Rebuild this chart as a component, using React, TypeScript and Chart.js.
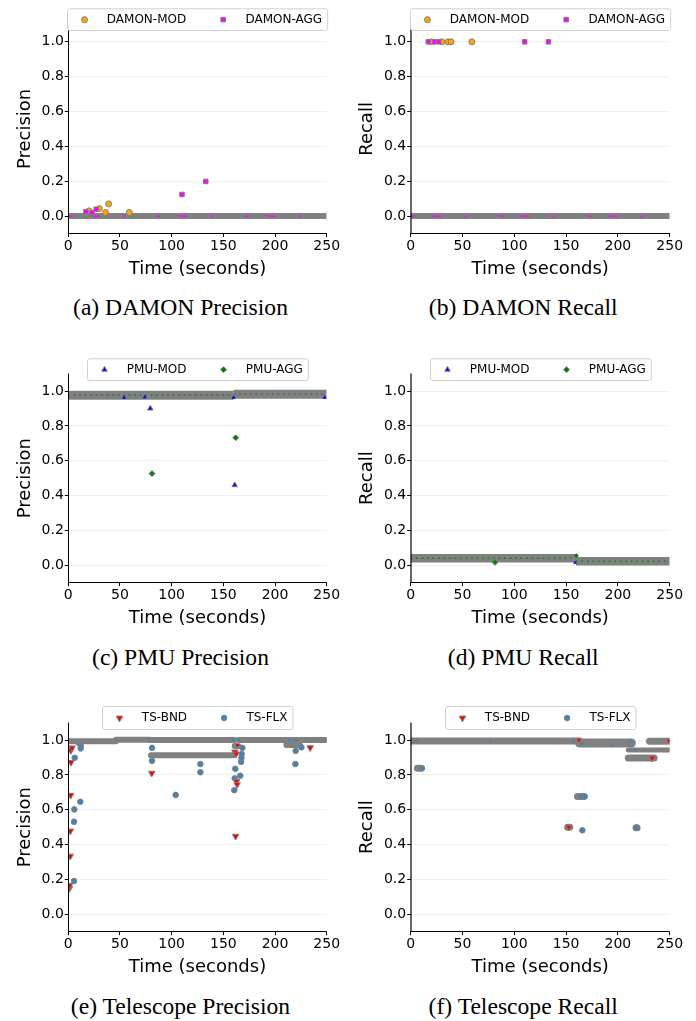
import React, { useEffect, useRef } from 'react';
import { Chart, registerables } from 'chart.js';

Chart.register(...registerables);

const SANS = '"DejaVu Sans", "Liberation Sans", sans-serif';
const SERIF = '"Liberation Serif", "Times New Roman", serif';
const EDGE = '#808080';

// ---------------- shared axes ----------------
const X_TICKS = [0, 50, 100, 150, 200, 250];
const Y_TICKS = [0.0, 0.2, 0.4, 0.6, 0.8, 1.0];
const X_LIMITS = [0, 250];
const Y_LIMITS = [-0.1, 1.1];
const X_TITLE = 'Time (seconds)';

// ---------------- (a), (b) DAMON ----------------
const damonModTime = [20, 30, 36, 39, 59];
const damonModPrecision = [0.03, 0.043, 0.021, 0.07, 0.021];
const damonModRecall = [1.0, 1.0, 1.0, 1.0, 1.0];
const damonAggTime = [17, 23, 27, 110, 133];
const damonAggPrecision = [0.025, 0.021, 0.039, 0.124, 0.199];
const damonAggRecall = [1.0, 1.0, 1.0, 1.0, 1.0];
// dense runs of samples: [start time, end time, value]
const damonPrecisionRuns = [[0, 250, 0.0]];
const damonRecallRuns = [[0, 250, 0.0]];

// ---------------- (c), (d) PMU ----------------
const pmuModPrecisionTime = [79.3, 161];
const pmuModPrecision = [0.9, 0.46];
const pmuModPrecisionBandTime = [54, 74, 160, 248];
const pmuModPrecisionBand = [0.962, 0.965, 0.962, 0.962];
const pmuAggPrecisionTime = [81, 162];
const pmuAggPrecision = [0.526, 0.732];
const pmuPrecisionRuns = [[0, 160, 0.976], [160, 250, 0.982]];

const pmuModRecallTime: number[] = [];
const pmuModRecall: number[] = [];
const pmuModRecallBandTime = [158.6];
const pmuModRecallBand = [0.015];
const pmuAggRecallTime = [81.4];
const pmuAggRecall = [0.017];
const pmuAggRecallBandTime = [160];
const pmuAggRecallBand = [0.055];
const pmuRecallRuns = [[0, 159.5, 0.04], [159.5, 250, 0.023]];

// ---------------- (e), (f) Telescope ----------------
const tsBndPrecisionTime = [1.0, 1.3, 1.9, 2.0, 2.3, 2.6, 2.4, 3.6, 80.7, 161.2, 161.9, 162.3, 162.8, 163.3, 234.0];
const tsBndPrecision = [0.148, 0.166, 0.334, 0.478, 0.683, 0.872, 0.94, 0.955, 0.81, 0.932, 0.448, 0.92, 0.762, 0.745, 0.956];
const tsBndPrecisionBandTime = [163.8];
const tsBndPrecisionBand = [0.97];
const tsFlxPrecisionTime = [5.5, 5.5, 5.8, 6.2, 11.6, 12.0, 12.0, 81.0, 81.0, 103.9, 127.8, 127.8, 160.6, 161.0, 161.6, 166.4, 167.2, 167.5, 167.7, 168.4, 219.7, 220.0, 225.6];
const tsFlxPrecision = [0.191, 0.531, 0.602, 0.898, 0.646, 0.952, 0.967, 0.955, 0.881, 0.685, 0.862, 0.815, 0.712, 0.78, 0.835, 0.795, 0.875, 0.898, 0.92, 0.955, 0.862, 0.938, 0.958];
const tsFlxPrecisionBandTime = [8.5, 79, 160, 165, 213.8, 219.7, 250];
const tsFlxPrecisionBand = [0.977, 1.0, 1.0, 1.0, 1.0, 1.0, 1.0];
const tsPrecisionRuns = [[0, 46, 0.993], [46, 79, 1.002], [79, 161, 1.0], [80, 160, 0.912], [161, 164.5, 0.965], [165, 250, 1.0], [211, 224, 0.972]];

const tsBndRecallTime = [152.5, 233];
const tsBndRecall = [0.5, 0.897];
const tsBndRecallBandTime = [162.3, 249];
const tsBndRecallBand = [1.0, 0.995];
const tsFlxRecallTime = [10.9, 165.7, 164.5, 168, 218];
const tsFlxRecall = [0.838, 0.482, 0.676, 0.676, 0.497];
const tsFlxRecallBandTime = [5.4, 77, 157, 165.5, 195, 211.5, 216];
const tsFlxRecallBand = [1.0, 0.995, 0.995, 0.98, 0.97, 0.995, 0.945];
const tsRecallRuns = [[0, 163, 0.994], [6.5, 10, 0.838], [151.5, 153.5, 0.5], [161, 167, 0.676], [217.5, 218.5, 0.497], [230.5, 250, 0.993], [210, 235, 0.897]];
const tsRecallWideRuns = [[163, 213, 0.983]];
const tsRecallThinRuns = [[210, 250, 0.943]];

// ---------------- layout ----------------
const CANVAS_W = 348;
const CANVAS_H = 290;
const COL_X = [0, 348];
const ROW_Y = [0, 349, 698];
const AREA_LEFT = [68.3, 62.7];
const AREA_RIGHT = [326.7, 321.7];
const AREA_TOP = [24.4, 24.6, 24.6];
const AREA_H = 209.1;
const Y_TITLE_PAD = [14.1, 8.2];
const X_TITLE_PAD = 9.5;
const CAPTION_CX = [180.5, 523.2];
const CAPTION_BASELINE = [315, 664.5, 1014];
const LEGEND_H = [21.7, 21.7, 23];

type Marker = { style: string; radius: number; rotation: number; fill: string };
type Series = {
  label: string; marker: Marker; order: number;
  time: number[]; value: number[];
  bandTime: number[]; bandValue: number[]; speckRadius: number;
};
type RunSet = { runs: number[][]; width: number; cap: CanvasLineCap; color: string; texture?: { color: string; width: number; dash: number[] } };
type Panel = { id: string; col: number; row: number; yTitle: string; caption: string; series: Series[]; runs: RunSet[] };

const M_DAMON_MOD: Marker = { style: 'circle', radius: 3, rotation: 0, fill: '#FFA500' };
const M_DAMON_AGG: Marker = { style: 'rect', radius: 3.2, rotation: 0, fill: '#FF00FF' };
const M_PMU_MOD: Marker = { style: 'triangle', radius: 3.2, rotation: 0, fill: '#0000FF' };
const M_PMU_AGG: Marker = { style: 'rectRot', radius: 3, rotation: 0, fill: '#008000' };
const M_TS_BND: Marker = { style: 'triangle', radius: 3.8, rotation: 180, fill: '#FF0000' };
const M_TS_FLX: Marker = { style: 'circle', radius: 2.8, rotation: 0, fill: '#4682B4' };

const DAMON_TEX = { color: '#FF00FF', width: 1.2, dash: [5, 17, 9, 23, 3, 31] };
const PMU_TEX = { color: 'rgba(0,128,0,0.85)', width: 1.4, dash: [1.5, 4] };

const PANELS: Panel[] = [
  {
    id: 'a', col: 0, row: 0, yTitle: 'Precision', caption: '(a) DAMON Precision',
    series: [
      { label: 'DAMON-MOD', marker: M_DAMON_MOD, order: 2, time: damonModTime, value: damonModPrecision, bandTime: [], bandValue: [], speckRadius: 0 },
      { label: 'DAMON-AGG', marker: M_DAMON_AGG, order: 1, time: damonAggTime, value: damonAggPrecision, bandTime: [], bandValue: [], speckRadius: 0 },
    ],
    runs: [{ runs: damonPrecisionRuns, width: 6, cap: 'butt', color: EDGE, texture: DAMON_TEX }],
  },
  {
    id: 'b', col: 1, row: 0, yTitle: 'Recall', caption: '(b) DAMON Recall',
    series: [
      { label: 'DAMON-MOD', marker: M_DAMON_MOD, order: 2, time: damonModTime, value: damonModRecall, bandTime: [], bandValue: [], speckRadius: 0 },
      { label: 'DAMON-AGG', marker: M_DAMON_AGG, order: 1, time: damonAggTime, value: damonAggRecall, bandTime: [], bandValue: [], speckRadius: 0 },
    ],
    runs: [{ runs: damonRecallRuns, width: 6, cap: 'butt', color: EDGE, texture: DAMON_TEX }],
  },
  {
    id: 'c', col: 0, row: 1, yTitle: 'Precision', caption: '(c) PMU Precision',
    series: [
      { label: 'PMU-MOD', marker: M_PMU_MOD, order: 2, time: pmuModPrecisionTime, value: pmuModPrecision, bandTime: pmuModPrecisionBandTime, bandValue: pmuModPrecisionBand, speckRadius: 2.4 },
      { label: 'PMU-AGG', marker: M_PMU_AGG, order: 1, time: pmuAggPrecisionTime, value: pmuAggPrecision, bandTime: [], bandValue: [], speckRadius: 0 },
    ],
    runs: [{ runs: pmuPrecisionRuns, width: 9, cap: 'butt', color: EDGE, texture: PMU_TEX }],
  },
  {
    id: 'd', col: 1, row: 1, yTitle: 'Recall', caption: '(d) PMU Recall',
    series: [
      { label: 'PMU-MOD', marker: M_PMU_MOD, order: 2, time: pmuModRecallTime, value: pmuModRecall, bandTime: pmuModRecallBandTime, bandValue: pmuModRecallBand, speckRadius: 2.2 },
      { label: 'PMU-AGG', marker: M_PMU_AGG, order: 1, time: pmuAggRecallTime, value: pmuAggRecall, bandTime: pmuAggRecallBandTime, bandValue: pmuAggRecallBand, speckRadius: 2.4 },
    ],
    runs: [{ runs: pmuRecallRuns, width: 8.5, cap: 'butt', color: EDGE, texture: PMU_TEX }],
  },
  {
    id: 'e', col: 0, row: 2, yTitle: 'Precision', caption: '(e) Telescope Precision',
    series: [
      { label: 'TS-BND', marker: M_TS_BND, order: 1, time: tsBndPrecisionTime, value: tsBndPrecision, bandTime: tsBndPrecisionBandTime, bandValue: tsBndPrecisionBand, speckRadius: 2.4 },
      { label: 'TS-FLX', marker: M_TS_FLX, order: 2, time: tsFlxPrecisionTime, value: tsFlxPrecision, bandTime: tsFlxPrecisionBandTime, bandValue: tsFlxPrecisionBand, speckRadius: 1.5 },
    ],
    runs: [{ runs: tsPrecisionRuns, width: 6, cap: 'round', color: EDGE }],
  },
  {
    id: 'f', col: 1, row: 2, yTitle: 'Recall', caption: '(f) Telescope Recall',
    series: [
      { label: 'TS-BND', marker: M_TS_BND, order: 1, time: tsBndRecallTime, value: tsBndRecall, bandTime: tsBndRecallBandTime, bandValue: tsBndRecallBand, speckRadius: 2.4 },
      { label: 'TS-FLX', marker: M_TS_FLX, order: 2, time: tsFlxRecallTime, value: tsFlxRecall, bandTime: tsFlxRecallBandTime, bandValue: tsFlxRecallBand, speckRadius: 1.5 },
    ],
    runs: [
      { runs: tsRecallWideRuns, width: 9, cap: 'round', color: EDGE },
      { runs: tsRecallRuns, width: 7, cap: 'round', color: EDGE },
      { runs: tsRecallThinRuns, width: 5, cap: 'round', color: EDGE },
    ],
  },
];

function alignPixel(v: number, w: number) {
  return Math.round(v - w / 2) + w / 2;
}

function drawMarker(ctx: CanvasRenderingContext2D, m: Marker, x: number, y: number) {
  const r = m.radius;
  ctx.beginPath();
  if (m.style === 'circle') {
    ctx.arc(x, y, r, 0, Math.PI * 2);
  } else if (m.style === 'rect') {
    const s = Math.SQRT1_2 * r;
    ctx.rect(x - s, y - s, 2 * s, 2 * s);
  } else if (m.style === 'rectRot') {
    ctx.moveTo(x - r, y);
    ctx.lineTo(x, y - r);
    ctx.lineTo(x + r, y);
    ctx.lineTo(x, y + r);
    ctx.closePath();
  } else {
    let a = (m.rotation * Math.PI) / 180;
    ctx.moveTo(x + Math.sin(a) * r, y - Math.cos(a) * r);
    a += (2 * Math.PI) / 3;
    ctx.lineTo(x + Math.sin(a) * r, y - Math.cos(a) * r);
    a += (2 * Math.PI) / 3;
    ctx.lineTo(x + Math.sin(a) * r, y - Math.cos(a) * r);
    ctx.closePath();
  }
  ctx.fillStyle = m.fill;
  ctx.fill();
  ctx.strokeStyle = EDGE;
  ctx.lineWidth = 1;
  ctx.stroke();
}

function datasetsFor(p: Panel) {
  const out: any[] = [];
  for (const s of p.series) {
    out.push({
      label: s.label,
      data: s.time.map((t, i) => ({ x: t, y: s.value[i] })),
      showLine: false,
      pointStyle: s.marker.style,
      pointRadius: s.marker.radius,
      pointRotation: s.marker.rotation,
      pointBackgroundColor: s.marker.fill,
      pointBorderColor: EDGE,
      pointBorderWidth: 1,
      backgroundColor: s.marker.fill,
      borderColor: EDGE,
      order: s.order,
      clip: 0,
    });
    if (s.bandTime.length) {
      out.push({
        data: s.bandTime.map((t, i) => ({ x: t, y: s.bandValue[i] })),
        showLine: false,
        pointStyle: s.marker.style,
        pointRadius: s.speckRadius,
        pointRotation: s.marker.rotation,
        pointBackgroundColor: s.marker.fill,
        pointBorderColor: s.marker.fill,
        pointBorderWidth: 0,
        backgroundColor: s.marker.fill,
        borderColor: s.marker.fill,
        order: 3,
        clip: 0,
      });
    }
  }
  for (const rs of p.runs) {
    for (const [t0, t1, v] of rs.runs) {
      out.push({
        data: [{ x: t0, y: v }, { x: t1, y: v }],
        showLine: true,
        pointRadius: 0,
        borderColor: rs.color,
        backgroundColor: rs.color,
        borderWidth: rs.width,
        borderCapStyle: rs.cap,
        fill: false,
        order: 5,
        clip: 0,
      });
      if (rs.texture) {
        out.push({
          data: [{ x: t0, y: v }, { x: t1, y: v }],
          showLine: true,
          pointRadius: 0,
          borderColor: rs.texture.color,
          backgroundColor: rs.texture.color,
          borderWidth: rs.texture.width,
          borderDash: rs.texture.dash,
          borderCapStyle: 'butt',
          fill: false,
          order: 4,
          clip: 0,
        });
      }
    }
  }
  return out;
}

function spinePlugin(col: number) {
  return {
    id: 'spines',
    afterDatasetsDraw(chart: any) {
      const { ctx, chartArea: a } = chart;
      ctx.save();
      const by = alignPixel(a.bottom, 1);
      const lw = col === 0 ? 1 : 2;
      const lx = alignPixel(a.left, lw);
      ctx.strokeStyle = col === 0 ? '#000' : 'rgba(0,0,0,0.6)';
      ctx.lineWidth = lw;
      ctx.beginPath();
      ctx.moveTo(lx, a.top);
      ctx.lineTo(lx, by + 0.5);
      ctx.stroke();
      ctx.strokeStyle = '#000';
      ctx.lineWidth = 1;
      ctx.beginPath();
      ctx.moveTo(lx - lw / 2, by);
      ctx.lineTo(a.right, by);
      ctx.stroke();
      ctx.restore();
    },
  };
}

function legendPlugin(p: Panel) {
  return {
    id: 'mplLegend',
    afterDraw(chart: any) {
      const { ctx, chartArea: a } = chart;
      ctx.save();
      ctx.font = `12px ${SANS}`;
      const w = p.series.map((s) => ctx.measureText(s.label).width);
      const PAD_L = 17, GAP = 22.3, COLSP = 37, PAD_R = 5.5;
      const total = PAD_L + GAP + w[0] + COLSP + GAP + w[1] + PAD_R;
      const cx = (a.left + a.right) / 2;
      const bx = Math.round(cx - total / 2) + 0.5;
      const bb = Math.round(a.top + 6) + 0.5;
      const h = LEGEND_H[p.row];
      const bt = bb - h;
      const rr = 2.5;
      ctx.beginPath();
      ctx.moveTo(bx + rr, bt);
      ctx.lineTo(bx + total - rr, bt);
      ctx.arcTo(bx + total, bt, bx + total, bt + rr, rr);
      ctx.lineTo(bx + total, bb - rr);
      ctx.arcTo(bx + total, bb, bx + total - rr, bb, rr);
      ctx.lineTo(bx + rr, bb);
      ctx.arcTo(bx, bb, bx, bb - rr, rr);
      ctx.lineTo(bx, bt + rr);
      ctx.arcTo(bx, bt, bx + rr, bt, rr);
      ctx.closePath();
      ctx.fillStyle = 'rgba(255,255,255,0.92)';
      ctx.fill();
      ctx.strokeStyle = '#d0d0d0';
      ctx.lineWidth = 1;
      ctx.stroke();
      const cy = (bt + bb) / 2;
      let x = bx + PAD_L;
      p.series.forEach((s, i) => {
        drawMarker(ctx, s.marker, x, cy);
        ctx.fillStyle = '#000';
        ctx.textBaseline = 'middle';
        ctx.textAlign = 'left';
        ctx.fillText(s.label, x + GAP, cy + 0.3);
        x += GAP + w[i] + COLSP;
      });
      ctx.restore();
    },
  };
}

function buildConfig(p: Panel): any {
  const left = AREA_LEFT[p.col];
  const right = CANVAS_W - AREA_RIGHT[p.col];
  const top = AREA_TOP[p.row];
  const xAxisH = CANVAS_H - top - AREA_H;
  const tickFont = { family: SANS, size: 14 };
  const titleFont = { family: SANS, size: 18, lineHeight: 1.2 };
  return {
    type: 'scatter',
    data: { datasets: datasetsFor(p) },
    options: {
      responsive: false,
      maintainAspectRatio: false,
      animation: false,
      devicePixelRatio: 1,
      events: [],
      layout: { padding: { left: 0, top, right, bottom: 0 } },
      plugins: {
        legend: { display: false },
        tooltip: { enabled: false },
        colors: { enabled: false },
      },
      scales: {
        x: {
          type: 'linear',
          position: 'bottom',
          min: X_LIMITS[0],
          max: X_LIMITS[1],
          afterBuildTicks: (s: any) => { s.ticks = X_TICKS.map((v) => ({ value: v })); },
          afterFit: (s: any) => { s.height = xAxisH; },
          ticks: { font: tickFont, color: '#000', padding: 1, autoSkip: false, maxRotation: 0, minRotation: 0, callback: (v: any) => String(v) },
          grid: { display: true, drawOnChartArea: false, drawTicks: true, tickLength: 3.5, tickColor: '#000', tickWidth: 1, color: '#000' },
          border: { display: false },
          title: { display: true, text: X_TITLE, font: titleFont, color: '#000', padding: { top: 0, bottom: X_TITLE_PAD } },
        },
        y: {
          type: 'linear',
          position: 'left',
          min: Y_LIMITS[0],
          max: Y_LIMITS[1],
          afterBuildTicks: (s: any) => { s.ticks = Y_TICKS.map((v) => ({ value: v })); },
          afterFit: (s: any) => { s.width = left; },
          ticks: { font: tickFont, color: '#000', padding: 1, autoSkip: false, callback: (v: any) => Number(v).toFixed(1) },
          grid: { display: true, drawOnChartArea: true, color: 'rgba(0,0,0,0.06)', lineWidth: 1, drawTicks: true, tickLength: 3.5, tickColor: '#000', tickWidth: 1 },
          border: { display: false },
          title: { display: true, text: p.yTitle, font: titleFont, color: '#000', padding: { top: Y_TITLE_PAD[p.col], bottom: 0 } },
        },
      },
    },
    plugins: [spinePlugin(p.col), legendPlugin(p)],
  };
}

function PanelChart({ p }: { p: Panel }) {
  const ref = useRef<HTMLCanvasElement>(null);
  useEffect(() => {
    if (!ref.current) return;
    const chart = new Chart(ref.current, buildConfig(p));
    return () => chart.destroy();
  }, [p]);
  return (
    <>
      <canvas
        ref={ref}
        width={CANVAS_W}
        height={CANVAS_H}
        style={{ position: 'absolute', left: COL_X[p.col], top: ROW_Y[p.row], width: CANVAS_W, height: CANVAS_H }}
      />
      <div
        style={{
          position: 'absolute',
          left: CAPTION_CX[p.col] - 170,
          width: 340,
          top: CAPTION_BASELINE[p.row] - 20,
          textAlign: 'center',
          fontFamily: SERIF,
          fontSize: '23.6px',
          lineHeight: '24px',
          whiteSpace: 'nowrap',
          color: '#000',
        }}
      >
        {p.caption}
      </div>
    </>
  );
}

export default function App() {
  return (
    <div style={{ position: 'absolute', left: 0, top: 0, width: 696, height: 1021, background: '#fff', overflow: 'hidden' }}>
      {PANELS.map((p) => (
        <PanelChart key={p.id} p={p} />
      ))}
    </div>
  );
}
